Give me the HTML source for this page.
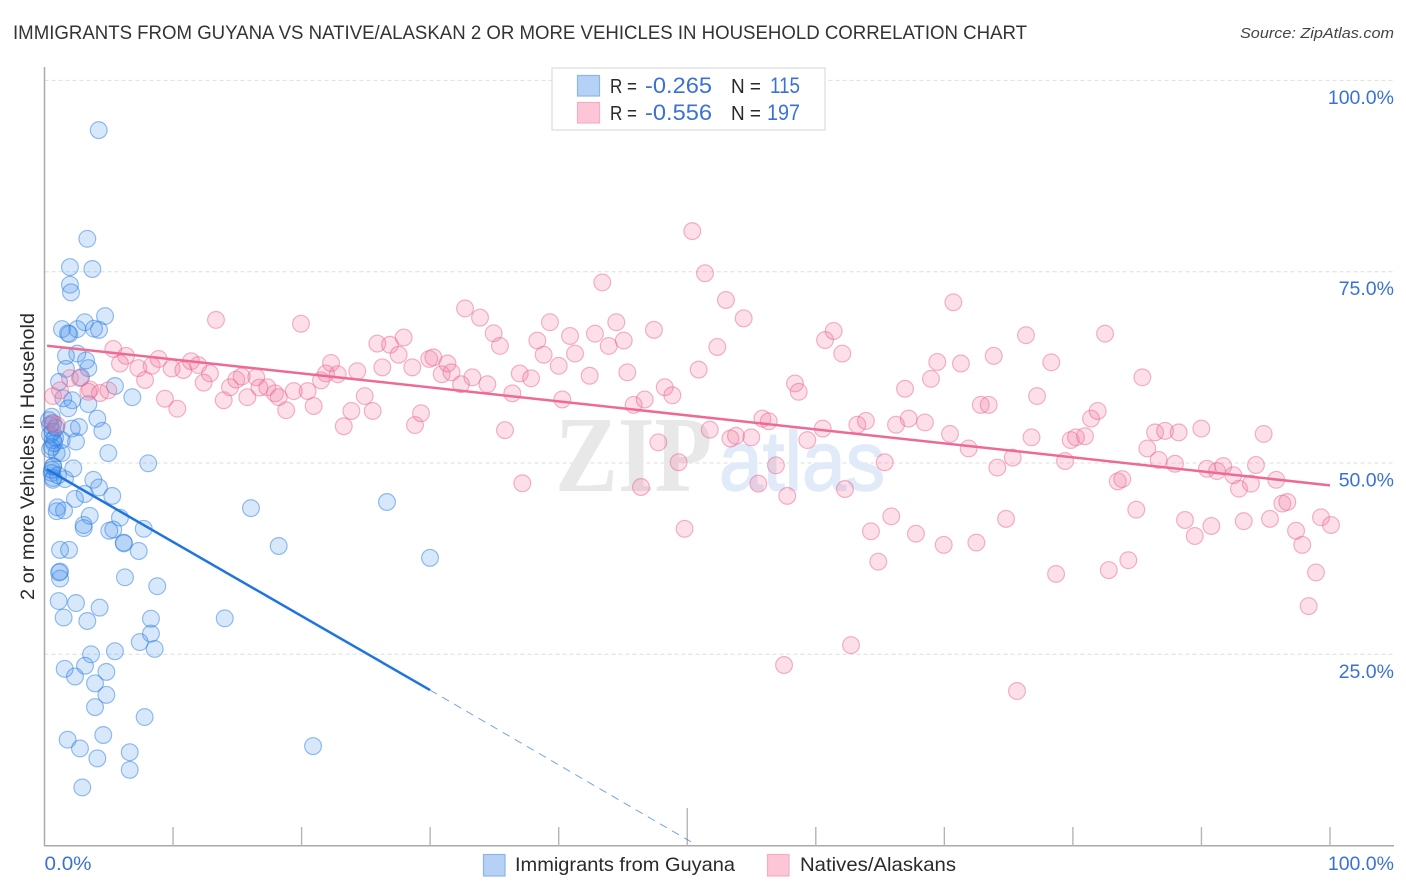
<!DOCTYPE html>
<html lang="en">
<head>
<meta charset="utf-8">
<title>Immigrants from Guyana vs Native/Alaskan correlation chart</title>
<style>
html,body{margin:0;padding:0;background:#fff;width:1406px;height:892px;overflow:hidden}
svg{display:block;font-family:"Liberation Sans",sans-serif}
</style>
</head>
<body>
<svg id="chart" xmlns="http://www.w3.org/2000/svg" width="1406" height="892" viewBox="0 0 1406 892">
  <rect x="0" y="0" width="1406" height="892" fill="#fff"/>
  <text x="13" y="39" font-size="19" fill="#333" textLength="1014" lengthAdjust="spacingAndGlyphs">IMMIGRANTS FROM GUYANA VS NATIVE/ALASKAN 2 OR MORE VEHICLES IN HOUSEHOLD CORRELATION CHART</text>
  <text x="1394" y="38" font-size="15" font-style="italic" fill="#444" text-anchor="end" textLength="154" lengthAdjust="spacingAndGlyphs">Source: ZipAtlas.com</text>

  <g id="grid"></g>
  <g>
    <text x="555" y="491" font-family="'Liberation Serif',serif" font-weight="bold" font-size="108" fill="#e8e8e8" textLength="157" lengthAdjust="spacingAndGlyphs">ZIP</text>
    <text x="719" y="490" font-size="84" fill="#e0eaf8" stroke="#e0eaf8" stroke-width="1.5" textLength="166" lengthAdjust="spacingAndGlyphs">atlas</text>
  </g>
  <g id="axes"></g>
  <g id="points-blue"></g>
  <g id="points-pink"></g>
  <g id="trends"></g>
  <g id="tick-labels"></g>

  <text transform="translate(34,456.5) rotate(-90)" font-size="19" fill="#2a2a2a" text-anchor="middle" textLength="287" lengthAdjust="spacingAndGlyphs">2 or more Vehicles in Household</text>

  <g>
    <rect x="552" y="68" width="273" height="62" fill="#fff" stroke="#dcdcdc" stroke-width="1.2"/>
    <rect x="577.5" y="75.5" width="22" height="20.5" fill="#b5d2f6" stroke="#8fb4ea" stroke-width="1.2"/>
    <rect x="577.5" y="102.5" width="22" height="20.5" fill="#fcc6d7" stroke="#f6aec5" stroke-width="1.2"/>
    <text x="610" y="93" font-size="20" fill="#2a2a2a" textLength="27" lengthAdjust="spacingAndGlyphs">R =</text>
    <text x="645" y="93" font-size="22" fill="#3a72d4" textLength="67" lengthAdjust="spacingAndGlyphs">-0.265</text>
    <text x="731" y="93" font-size="20" fill="#2a2a2a" textLength="30" lengthAdjust="spacingAndGlyphs">N =</text>
    <text x="770" y="93" font-size="22" fill="#3a72d4" textLength="30" lengthAdjust="spacingAndGlyphs">115</text>
    <text x="610" y="120" font-size="20" fill="#2a2a2a" textLength="27" lengthAdjust="spacingAndGlyphs">R =</text>
    <text x="645" y="120" font-size="22" fill="#3a72d4" textLength="67" lengthAdjust="spacingAndGlyphs">-0.556</text>
    <text x="731" y="120" font-size="20" fill="#2a2a2a" textLength="30" lengthAdjust="spacingAndGlyphs">N =</text>
    <text x="767" y="120" font-size="22" fill="#3a72d4" textLength="33" lengthAdjust="spacingAndGlyphs">197</text>
  </g>

  <g>
    <rect x="483.5" y="854.5" width="21.5" height="21.5" fill="#b5d2f6" stroke="#8fb4ea" stroke-width="1.2"/>
    <text x="515" y="871" font-size="19.5" fill="#2a2a2a" textLength="220" lengthAdjust="spacingAndGlyphs">Immigrants from Guyana</text>
    <rect x="767.5" y="854.5" width="21.5" height="21.5" fill="#fcc6d7" stroke="#f6aec5" stroke-width="1.2"/>
    <text x="800" y="871" font-size="19.5" fill="#2a2a2a" textLength="156" lengthAdjust="spacingAndGlyphs">Natives/Alaskans</text>
  </g>
</svg>

<script>
// ---- chart data (percent units) ----
const blueX = [4.22,3.33,1.98,3.72,1.98,2.06,4.71,3.13,2.55,1.36,1.83,1.93,3.85,4.24,2.55,1.67,3.23,3.41,1.67,1.13,2.84,5.48,6.83,1.46,2.16,3.41,1.85,4.11,2.68,2.12,4.50,2.45,4.96,8.07,2.24,0.66,0.66,1.59,3.80,4.24,3.13,2.37,5.27,1.00,0.95,1.52,3.52,5.87,3.05,3.05,7.72,5.35,5.04,6.16,6.18,7.33,1.21,1.91,16.06,18.22,1.21,1.13,1.21,6.26,8.77,1.10,2.45,4.29,1.49,3.33,8.28,14.02,8.28,7.41,8.57,3.62,5.48,3.15,1.57,2.37,4.81,3.93,4.81,3.93,7.79,1.80,4.57,2.76,4.11,6.63,6.63,2.94,20.89,29.99,26.64,0.56,0.68,0.43,0.64,0.66,1.34,0.56,0.95,1.34,0.68,0.56,0.68,0.82,0.43,1.05,0.35,0.74,0.43,0.89,0.58];
const blueY = [93.5,79.3,75.6,75.35,73.3,72.3,69.2,68.4,67.5,67.5,66.95,66.85,67.55,67.4,64.3,64.0,63.4,62.4,62.3,60.6,61.2,60.06,58.6,58.45,58.2,57.7,57.15,55.8,54.7,54.5,54.2,52.8,51.3,49.96,49.3,49.5,47.8,47.9,47.8,46.8,45.95,45.3,45.7,44.2,43.7,43.8,43.1,42.85,41.9,41.5,41.4,41.3,41.15,39.6,39.5,38.5,38.65,38.65,44.1,39.15,35.8,35.7,34.9,35.06,33.9,31.96,31.7,31.1,29.8,29.35,29.65,29.7,27.7,26.6,25.7,25.0,25.4,23.5,23.1,22.1,22.7,21.2,19.7,18.1,16.8,13.84,14.45,12.7,11.4,12.2,9.9,7.6,13.0,37.6,44.9,56.05,55.2,54.96,54.1,53.0,53.0,52.1,51.3,51.3,49.6,48.7,48.04,53.3,51.8,48.4,55.6,52.6,53.7,54.6,49.1];
const pinkX = [0.66,1.21,1.98,2.76,3.54,3.41,4.32,4.96,0.56,0.95,5.35,6.34,5.87,7.30,8.34,8.88,7.82,9.37,10.33,9.89,10.80,11.40,11.96,12.87,12.38,13.34,13.94,14.43,14.92,15.34,15.78,16.47,16.72,17.33,17.93,18.22,18.80,19.39,19.95,20.47,20.94,21.51,21.90,22.29,22.81,23.28,23.87,24.33,24.91,25.53,25.89,26.28,26.88,27.55,27.94,28.61,28.82,29.29,29.93,30.25,30.90,31.35,31.66,32.40,32.71,33.28,33.88,34.45,34.94,35.43,35.82,36.39,36.97,37.17,37.85,38.34,38.83,39.32,40.00,40.28,40.88,41.27,42.41,42.82,43.39,43.89,44.48,45.06,45.34,45.83,46.40,46.69,47.41,47.75,48.25,48.84,49.33,49.79,50.39,50.89,51.38,51.75,52.34,53.01,53.36,53.79,54.39,54.98,55.53,55.84,56.34,56.90,57.53,57.78,58.38,58.67,59.34,60.54,60.72,61.39,62.06,62.27,62.74,63.23,63.90,64.29,64.86,65.36,65.87,66.24,66.94,67.23,67.79,68.49,68.96,69.45,69.95,70.44,70.70,71.29,71.89,72.49,72.83,73.45,73.84,74.12,74.80,75.32,75.65,76.35,76.78,77.21,78.32,78.69,79.39,79.83,80.24,80.94,81.41,81.93,82.50,82.79,83.49,83.84,84.31,84.93,85.40,85.79,86.39,86.67,87.17,87.94,88.23,88.72,89.48,89.99,90.43,90.77,91.21,91.70,92.48,92.92,93.29,93.85,94.24,94.84,95.33,95.82,96.29,96.68,97.36,97.84,98.34,98.91,99.30,100.08];
const pinkY = [58.75,59.5,61.1,61.1,59.6,59.3,59.15,59.5,55.2,54.96,64.9,64.0,63.0,62.4,62.7,63.6,60.85,58.4,57.1,62.35,62.15,63.3,62.8,61.7,60.5,68.7,58.2,59.9,60.9,61.3,58.6,61.2,59.85,59.9,59.1,58.6,56.9,59.4,68.2,59.4,57.45,60.8,61.7,63.07,61.6,54.8,56.8,62.0,58.75,56.8,65.6,62.5,65.45,64.15,66.4,62.5,54.96,56.5,63.6,63.8,61.6,63.0,61.85,60.3,70.2,61.2,69.0,60.3,66.95,65.3,54.3,59.1,61.7,47.35,61.07,66.0,64.15,68.4,62.7,58.3,66.6,64.3,61.4,66.9,73.6,65.3,68.4,66.0,61.85,57.6,46.86,58.3,67.4,52.7,59.9,58.85,50.1,41.4,80.3,62.2,74.8,54.35,65.16,71.3,53.2,53.55,68.9,53.36,47.3,55.8,55.45,49.7,23.6,45.7,60.4,59.3,53.0,54.5,66.07,67.25,64.3,46.6,26.2,55.0,55.5,41.07,37.1,50.1,43.03,55.0,59.7,55.8,40.76,55.3,61.0,63.2,39.3,53.8,71.0,63.0,51.9,39.6,57.6,57.6,64.0,49.4,42.7,50.7,20.2,66.7,53.36,58.75,63.16,35.5,50.26,53.0,53.36,53.5,55.8,56.8,66.9,36.0,47.6,47.9,37.3,43.9,61.2,51.9,54.0,50.4,54.2,49.9,54.0,42.55,40.46,54.5,49.25,41.77,48.95,49.6,48.4,46.64,42.4,47.3,49.74,53.8,42.7,47.8,44.7,44.9,41.15,39.3,31.3,35.7,42.9,41.9];
const blueTrendX = [0.17, 29.99];
const blueTrendY = [49.2, 20.33];
const blueDashX = [29.99, 50.45];
const blueDashY = [20.33, 0.34];
const pinkTrendX = [0.2, 100];
const pinkTrendY = [65.33, 47.08];
const xTickValues = [10,20,30,40,50,60,70,80,90,100];
const yGridValues = [100,75,50,25];
const yTickLabels = ["100.0%","75.0%","50.0%","25.0%"];
const xEndLabels = ["0.0%","100.0%"];

// ---- axis functions ----
const NS = "http://www.w3.org/2000/svg";
function xPos(v){ return 44.5 + v * 12.855; }
function yPos(v){ return 845.6 - v * 7.652; }
function make(tag, attrs, parent){
  const el = document.createElementNS(NS, tag);
  for (const k in attrs) el.setAttribute(k, attrs[k]);
  parent.appendChild(el);
  return el;
}

// gridlines
const gridG = document.getElementById("grid");
yGridValues.forEach(function(v){
  const l = make("line", {x1:44.5, x2:1394, y1:yPos(v), y2:yPos(v), stroke:"#dedede", "stroke-width":1, "stroke-dasharray":"4 3"}, gridG);
  
  
});

// axes and ticks
const axesG = document.getElementById("axes");
const yAxisLine = make("line", {x1:44.5, x2:44.5, y1:67, y2:846, stroke:"#aaa", "stroke-width":1.5}, axesG);


const xAxisLine = make("line", {x1:44, x2:1394, y1:845.8, y2:845.8, stroke:"#aaa", "stroke-width":1.5}, axesG);


xTickValues.forEach(function(v){
  const top = v === 50 ? 808 : 827;
  const t = make("line", {x1:xPos(v), x2:xPos(v), y1:top, y2:846, stroke:"#b5b5b5", "stroke-width":1.4}, axesG);
  
  
});

// points
const blueG = document.getElementById("points-blue");
blueX.forEach(function(v, i){
  const c = make("circle", {cx:xPos(v), cy:yPos(blueY[i]), r:8.4, fill:"#3a8bea", "fill-opacity":0.2, stroke:"#2a7be2", "stroke-opacity":0.5, "stroke-width":1.15}, blueG);
  
  
});
const pinkG = document.getElementById("points-pink");
pinkX.forEach(function(v, i){
  const c = make("circle", {cx:xPos(v), cy:yPos(pinkY[i]), r:8.4, fill:"#f27ba0", "fill-opacity":0.24, stroke:"#e8608c", "stroke-opacity":0.48, "stroke-width":1.15}, pinkG);
  
  
});

// trend lines
const trendG = document.getElementById("trends");
const blueDash = make("line", {x1:xPos(blueDashX[0]), y1:yPos(blueDashY[0]), x2:xPos(blueDashX[1]), y2:yPos(blueDashY[1]), stroke:"#2a72d8", "stroke-opacity":0.65, "stroke-width":1, "stroke-dasharray":"8 6"}, trendG);


const blueLine = make("line", {x1:xPos(blueTrendX[0]), y1:yPos(blueTrendY[0]), x2:xPos(blueTrendX[1]), y2:yPos(blueTrendY[1]), stroke:"#1f74de", "stroke-width":2.5}, trendG);


const pinkLine = make("line", {x1:xPos(pinkTrendX[0]), y1:yPos(pinkTrendY[0]), x2:xPos(pinkTrendX[1]), y2:yPos(pinkTrendY[1]), stroke:"#ee6a95", "stroke-width":2.5}, trendG);



// tick labels
const labelG = document.getElementById("tick-labels");
yGridValues.forEach(function(v, i){
  const t = make("text", {x:1394, y:yPos(v) + 23.5, "font-size":19.5, fill:"#3a72d4", "text-anchor":"end"}, labelG);
  t.textContent = yTickLabels[i];
  
  
});
const x0Label = make("text", {x:44.5, y:870, "font-size":19.5, fill:"#3a72d4", textLength:47, lengthAdjust:"spacingAndGlyphs"}, labelG);
x0Label.textContent = xEndLabels[0];


const x100Label = make("text", {x:1394, y:870, "font-size":19.5, fill:"#3a72d4", "text-anchor":"end"}, labelG);
x100Label.textContent = xEndLabels[1];


</script>
</body>
</html>
